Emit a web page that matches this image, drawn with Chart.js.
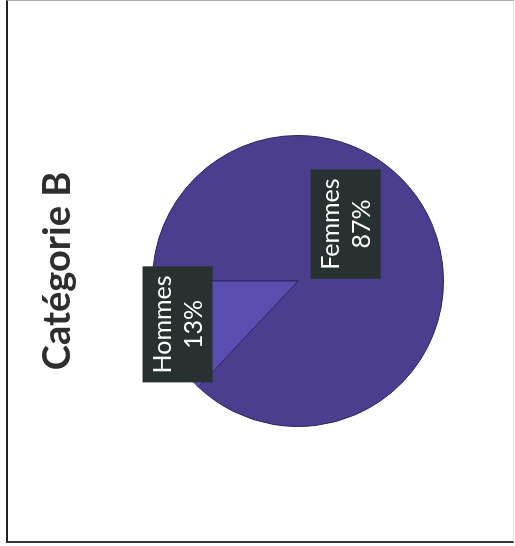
<!DOCTYPE html>
<html>
<head>
<meta charset="utf-8">
<script src="https://cdn.jsdelivr.net/npm/chart.js@4"></script>
<style>
  body { margin: 0; background: #fff; }
  #frame {
    position: absolute; left: 6px; top: 0; width: 508px; height: 543px;
    box-sizing: border-box;
    border-left: 2px solid #222; border-bottom: 2px solid #333;
    border-top: 1px solid #aaa; border-right: 1px solid #e2e2e2;
  }
  /* the scanned chart is turned a quarter turn to the left */
  #chart {
    position: absolute; left: 7px; top: 541px;
    transform-origin: 0 0; transform: rotate(-90deg);
  }
</style>
</head>
<body>
<div id="frame"></div>
<canvas id="chart" width="541" height="506"></canvas>
<script>
// DATA
const chartTitle = "Catégorie B";
const categories = ["Femmes", "Hommes"];
const shares = [87, 13];
const sliceColors = ["#4b3e8e", "#5a4eb0"];

// where each data label sits: shift from the slice middle (deg) and fraction of radius
const labelPlacement = [
  { shift: -26.7, dist: 0.51 },
  { shift: 3.6, dist: 0.88 },
];

const titlePlugin = {
  id: "sideTitle",
  afterDraw(chart) {
    const ctx = chart.ctx;
    ctx.save();
    ctx.font = "bold 38px Lato";
    ctx.fillStyle = "#2e2e2e";
    ctx.textAlign = "center";
    ctx.textBaseline = "alphabetic";
    ctx.fillText(chartTitle, 270, 63);
    ctx.restore();
  },
};

const boxLabels = {
  id: "boxLabels",
  afterDatasetsDraw(chart) {
    const ctx = chart.ctx;
    const meta = chart.getDatasetMeta(0);
    ctx.save();
    ctx.font = "25px Lato";
    meta.data.forEach((arc, i) => {
      const p = arc.getProps(["x", "y", "startAngle", "endAngle", "outerRadius"], true);
      const pos = labelPlacement[i];
      const a = (p.startAngle + p.endAngle) / 2 + (pos.shift * Math.PI) / 180;
      const cx = p.x + Math.cos(a) * p.outerRadius * pos.dist;
      const cy = p.y + Math.sin(a) * p.outerRadius * pos.dist;
      const lines = [categories[i], shares[i] + "%"];
      const w = Math.max(...lines.map((l) => ctx.measureText(l).width)) + 18;
      const h = 70;
      ctx.fillStyle = "#283030";
      ctx.fillRect(cx - w / 2, cy - h / 2, w, h);
      ctx.fillStyle = "#ffffff";
      ctx.textAlign = "center";
      ctx.textBaseline = "middle";
      ctx.fillText(lines[0], cx, cy - 15);
      ctx.fillText(lines[1], cx, cy + 16);
    });
    ctx.restore();
  },
};

new Chart(document.getElementById("chart"), {
  type: "pie",
  data: {
    labels: categories,
    datasets: [
      {
        data: shares,
        backgroundColor: sliceColors,
        borderColor: "#2a2462",
        borderWidth: 1,
      },
    ],
  },
  options: {
    responsive: false,
    animation: false,
    layout: { padding: { left: 114, right: 135, top: 145, bottom: 69 } },
    plugins: {
      legend: { display: false },
      tooltip: { enabled: false },
    },
  },
  plugins: [boxLabels, titlePlugin],
});
</script>
</body>
</html>
